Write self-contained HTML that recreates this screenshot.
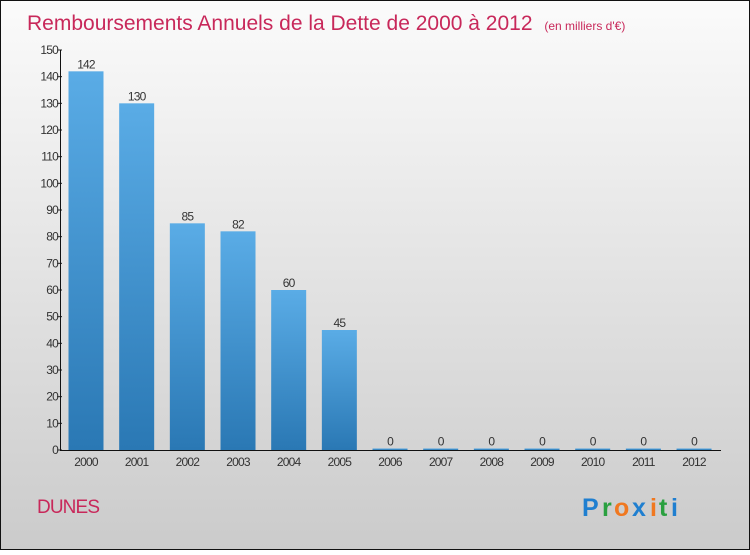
<!DOCTYPE html>
<html><head><meta charset="utf-8"><style>
html,body{margin:0;padding:0;}
body{width:750px;height:550px;overflow:hidden;font-family:"Liberation Sans",sans-serif;}
</style></head><body>
<svg width="750" height="550" xmlns="http://www.w3.org/2000/svg">
<defs>
<linearGradient id="bg" x1="0" y1="0" x2="0" y2="1"><stop offset="0" stop-color="#fbfbfb"/><stop offset="1" stop-color="#cbcbcb"/></linearGradient>
<linearGradient id="bar" x1="0" y1="0" x2="0" y2="1"><stop offset="0" stop-color="#5aace6"/><stop offset="1" stop-color="#2a78b4"/></linearGradient>
</defs>
<rect x="0.5" y="0.5" width="749" height="549" fill="url(#bg)" stroke="#111"/>
<text x="27" y="30" font-size="21" fill="#c8285a">Remboursements Annuels de la Dette de 2000 à 2012 <tspan font-size="12" dx="6">(en milliers d'€)</tspan></text>
<g id="plot"></g>
<text x="37" y="513" font-size="19" fill="#c8285a" textLength="63">DUNES</text>
<g font-size="25" font-weight="bold">
<text x="582" y="516" fill="#1f7fd0">P</text><text x="602" y="516" fill="#2aa040">r</text><text x="614" y="516" fill="#f07820">o</text><text x="632" y="516" fill="#1f7fd0">x</text><text x="650" y="516" fill="#f07820">i</text><text x="659" y="516" fill="#2aa040">t</text><text x="671" y="516" fill="#1f7fd0">i</text>
</g>
</svg>
<script>
const years=["2000","2001","2002","2003","2004","2005","2006","2007","2008","2009","2010","2011","2012"];
const values=[142,130,85,82,60,45,0,0,0,0,0,0,0];
const yTicks=[0,10,20,30,40,50,60,70,80,90,100,110,120,130,140,150];
const NS="http://www.w3.org/2000/svg";
const g=document.getElementById('plot');
const y0=450,yTop=50,yMax=150;
const yS=v=>y0-v*(y0-yTop)/yMax;
const xS=i=>86+i*50.67;
function mk(t,a,txt){const e=document.createElementNS(NS,t);for(const k in a)e.setAttribute(k,a[k]);if(txt!==undefined)e.textContent=txt;g.appendChild(e);return e;}
yTicks.forEach(t=>{
  const l=mk('line',{x1:57,x2:62,y1:yS(t),y2:yS(t),stroke:'#222'});
  
  
  const tx=mk('text',{x:58,y:yS(t)+4,'font-size':12,'text-anchor':'end',fill:'#333','letter-spacing':'-0.8'},t);
  
  
});
values.forEach((v,i)=>{
  const h=Math.max(y0-yS(v),1.5);
  const b=mk('rect',{x:xS(i)-17.5,y:y0-h,width:35,height:h,fill:'url(#bar)'});
  
  
  const vl=mk('text',{x:xS(i),y:y0-h-3,'font-size':12,'text-anchor':'middle',fill:'#333','letter-spacing':'-0.8'},String(v));
  
  
  const xl=mk('text',{x:xS(i),y:466,'font-size':12,'text-anchor':'middle',fill:'#333','letter-spacing':'-0.8'},years[i]);
  
  
});
const ya=mk('line',{x1:60.5,x2:60.5,y1:yTop,y2:y0,stroke:'#111'});


const xa=mk('line',{x1:60,x2:721,y1:y0+0.5,y2:y0+0.5,stroke:'#111'});


</script>
</body></html>
